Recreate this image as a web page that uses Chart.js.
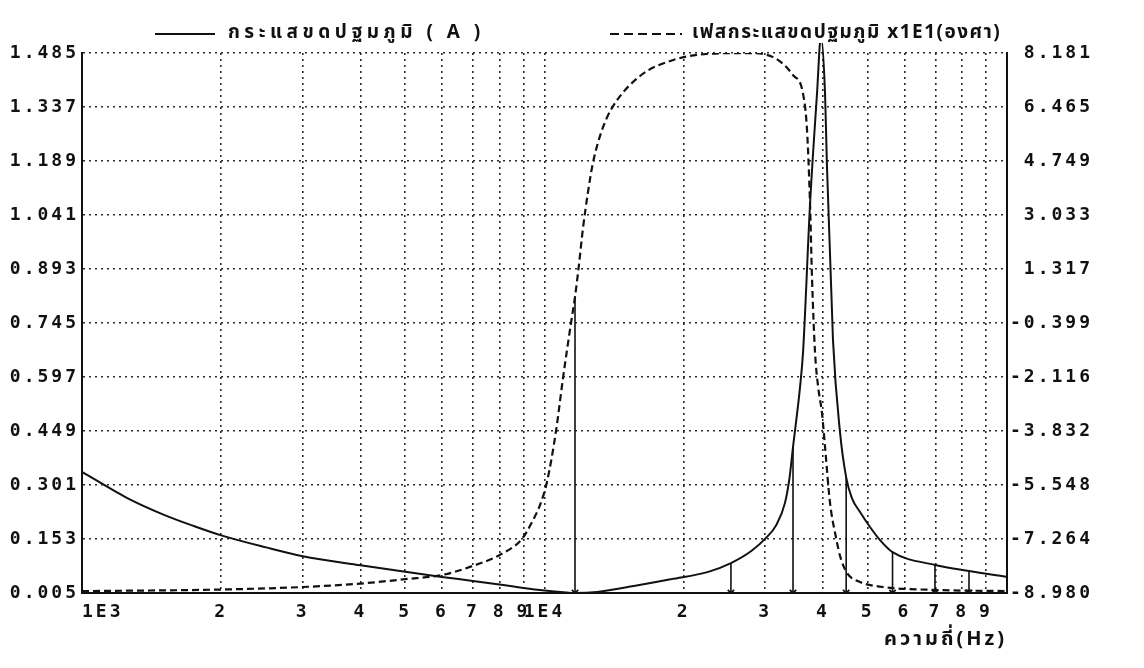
<!DOCTYPE html>
<html lang="th">
<head>
<meta charset="utf-8">
<title>กระแสขดปฐมภูมิ</title>
<script src="https://cdn.jsdelivr.net/npm/chart.js@4.4.1/dist/chart.umd.min.js"></script>
<style>
  html, body { margin: 0; padding: 0; background: #ffffff; }
  canvas { display: block; }
</style>
</head>
<body>
<canvas id="plot" width="1144" height="668"></canvas>
<script>
// Frequency axis ticks (Hz) and their printed labels
const xTickValues = [1000, 2000, 3000, 4000, 5000, 6000, 7000, 8000, 9000,
                     10000, 20000, 30000, 40000, 50000, 60000, 70000, 80000, 90000, 100000];
const xTickLabels = ['   1E3', '2', '3', '4', '5', '6', '7', '8', '9',
                     '1E4', '2', '3', '4', '5', '6', '7', '8', '9', ''];

// Left axis: primary current (A)
const currentTicks = [0.005, 0.153, 0.301, 0.449, 0.597, 0.745, 0.893, 1.041, 1.189, 1.337, 1.485];

// Right axis: phase x1E1 (degrees)
const phaseTicks = [-8.980, -7.264, -5.548, -3.832, -2.116, -0.399, 1.317, 3.033, 4.749, 6.465, 8.181];
const phaseTickLabels = ['-8.980', '-7.264', '-5.548', '-3.832', '-2.116', '-0.399',
                         ' 1.317', ' 3.033', ' 4.749', ' 6.465', ' 8.181'];

// Primary current magnitude versus frequency
const currentFreq = [1000, 1250, 1500, 1750, 2000, 2500, 3000, 4000, 5000, 6000, 7000, 8000,
                     9000, 10000, 11000, 11640, 13000, 15600, 18800, 22600, 25300, 28000,
                     30230, 31700, 33110, 33860, 34460, 35690, 36230, 37510, 38830, 39600,
                     40420, 40810, 42050, 43550, 44900, 46200, 48110, 50560, 53150, 56560,
                     69870, 82760, 100000];
const currentAmp  = [0.337, 0.266, 0.220, 0.188, 0.163, 0.130, 0.106, 0.081, 0.063, 0.049, 0.038, 0.028,
                     0.019, 0.012, 0.007, 0.005, 0.008, 0.024, 0.043, 0.063, 0.087, 0.120,
                     0.158, 0.191, 0.252, 0.320, 0.405, 0.570, 0.666, 1.071, 1.373, 1.530,
                     1.373, 1.173, 0.698, 0.445, 0.322, 0.265, 0.227, 0.186, 0.150, 0.117,
                     0.082, 0.065, 0.049];

// Primary current phase (x1E1 degrees) versus frequency
const phaseFreq = [1000, 2000, 3000, 4000, 5000, 6000, 6900, 8000, 8940, 9400,
                   9780, 10125, 10590, 10965, 11410, 11640, 11850, 12113, 12418, 12728,
                   13313, 13989, 16090, 19000, 22460, 27410, 31200, 34460, 36230, 36950,
                   37510, 37880, 38450, 39030, 39810, 40420, 41420, 42800, 43550, 45080,
                   48110, 53950, 69180, 100000];
const phaseDeg  = [-8.92, -8.87, -8.79, -8.68, -8.54, -8.41, -8.15, -7.77, -7.26, -6.72,
                   -6.18, -5.45, -3.83, -2.15, -0.40, 0.43, 1.35, 2.62, 3.76, 4.69,
                   5.73, 6.43, 7.45, 7.96, 8.15, 8.18, 8.05, 7.48, 6.88, 5.73,
                   3.38, 1.03, -1.32, -2.40, -3.26, -4.34, -6.10, -7.30, -7.80, -8.34,
                   -8.63, -8.79, -8.88, -8.92];

// Marked frequencies and the level (current scale) each marker line reaches
const markerFreq  = [11640, 25300, 34460, 44900, 56560, 69870, 82760];
const markerLevel = [0.816, 0.087, 0.405, 0.322, 0.117, 0.082, 0.065];

const INK = '#111111';
const GRID = '#2a2a2a';
const monoFont = { family: "'DejaVu Sans Mono', 'Liberation Mono', monospace", size: 18, weight: 'bold' };
const thaiFamily = "'Noto Sans Thai', 'Noto Sans', 'DejaVu Sans', sans-serif";

const pairs = (xs, ys) => xs.map((x, i) => ({ x: x, y: ys[i] }));

// Vertical marker lines: base, top, gap
const markerPoints = [];
markerFreq.forEach((f, i) => {
  markerPoints.push({ x: f, y: currentTicks[0] });
  markerPoints.push({ x: f, y: markerLevel[i] });
  markerPoints.push({ x: f, y: null });
});

// Wide dot-matrix style lettering for axis text
const spacingPlugin = {
  id: 'printerSpacing',
  beforeDraw(chart) { chart.ctx.letterSpacing = '3px'; }
};

// Key above the plot: line sample followed by the series name
const keyPlugin = {
  id: 'topKey',
  afterDraw(chart, args, opts) {
    const ctx = chart.ctx;
    opts.items.forEach(it => {
      const ds = chart.data.datasets[it.dataset];
      ctx.save();
      ctx.strokeStyle = ds.borderColor;
      ctx.lineWidth = ds.borderWidth;
      ctx.setLineDash(it.dash || []);
      ctx.beginPath();
      ctx.moveTo(it.x0, it.y);
      ctx.lineTo(it.x1, it.y);
      ctx.stroke();
      ctx.setLineDash([]);
      ctx.letterSpacing = it.spacing;
      ctx.fillStyle = INK;
      ctx.font = 'bold 19px ' + thaiFamily;
      ctx.textBaseline = 'middle';
      ctx.textAlign = 'left';
      ctx.fillText(ds.label, it.textX, it.y);
      ctx.restore();
    });
  }
};

new Chart(document.getElementById('plot'), {
  type: 'line',
  data: {
    datasets: [
      {
        label: 'กระแสขดปฐมภูมิ ( A )',
        data: pairs(currentFreq, currentAmp),
        yAxisID: 'yI',
        borderColor: INK,
        borderWidth: 2,
        pointRadius: 0,
        cubicInterpolationMode: 'monotone',
        clip: { left: 2, top: 10, right: 2, bottom: 2 }
      },
      {
        label: 'เฟสกระแสขดปฐมภูมิ x1E1(องศา)',
        data: pairs(phaseFreq, phaseDeg),
        yAxisID: 'yP',
        borderColor: INK,
        borderWidth: 2.2,
        borderDash: [7, 4],
        pointRadius: 0,
        cubicInterpolationMode: 'monotone'
      },
      {
        label: 'markers',
        data: markerPoints,
        yAxisID: 'yI',
        borderColor: INK,
        borderWidth: 1.6,
        tension: 0,
        spanGaps: false,
        pointStyle: 'crossRot',
        pointRadius: c => (c.dataIndex % 3 === 0 ? 4.5 : 0),
        pointBorderWidth: 1.8,
        pointBorderColor: INK,
        pointBackgroundColor: INK
      }
    ]
  },
  options: {
    responsive: false,
    animation: false,
    devicePixelRatio: 1,
    layout: { padding: { top: 53, left: 0, right: 0, bottom: 0 } },
    plugins: {
      legend: { display: false },
      tooltip: { enabled: false },
      topKey: {
        items: [
          { dataset: 0, x0: 155, x1: 215, textX: 228, y: 34, spacing: '4.5px' },
          { dataset: 1, x0: 610, x1: 682, textX: 692, y: 34, spacing: '1.5px', dash: [9, 5] }
        ]
      }
    },
    scales: {
      x: {
        type: 'logarithmic',
        position: 'bottom',
        min: 1000,
        max: 100000,
        afterBuildTicks: s => { s.ticks = xTickValues.map(v => ({ value: v })); },
        afterFit: s => { s.height = 75; },
        ticks: {
          autoSkip: false,
          maxRotation: 0,
          minRotation: 0,
          padding: 9,
          color: INK,
          font: monoFont,
          callback: (v, i) => xTickLabels[i]
        },
        grid: {
          drawTicks: false,
          lineWidth: 1.6,
          color: c => (c.index === 0 || c.index === xTickValues.length - 1) ? 'rgba(0,0,0,0)' : GRID
        },
        border: { display: true, color: INK, width: 2, dash: [2, 4] },
        title: {
          display: true,
          text: 'ความถี่(Hz)',
          align: 'end',
          color: INK,
          font: { family: thaiFamily, size: 20, weight: 'bold' },
          padding: { top: 0, bottom: 15 }
        }
      },
      yI: {
        position: 'left',
        min: 0.005,
        max: 1.485,
        afterBuildTicks: s => { s.ticks = currentTicks.map(v => ({ value: v })); },
        afterFit: s => { s.width = 82; },
        ticks: {
          padding: 3,
          color: INK,
          font: monoFont,
          callback: v => v.toFixed(3)
        },
        grid: { drawTicks: false, lineWidth: 1.6, color: GRID },
        border: { display: true, color: INK, width: 2, dash: [2, 4] }
      },
      yP: {
        position: 'right',
        min: -8.980,
        max: 8.181,
        afterBuildTicks: s => { s.ticks = phaseTicks.map(v => ({ value: v })); },
        afterFit: s => { s.width = 137; },
        ticks: {
          padding: 3,
          color: INK,
          font: monoFont,
          callback: (v, i) => phaseTickLabels[i]
        },
        grid: { display: false, drawTicks: false },
        border: { display: true, color: INK, width: 2 }
      }
    }
  },
  plugins: [spacingPlugin, keyPlugin]
});
</script>
</body>
</html>
